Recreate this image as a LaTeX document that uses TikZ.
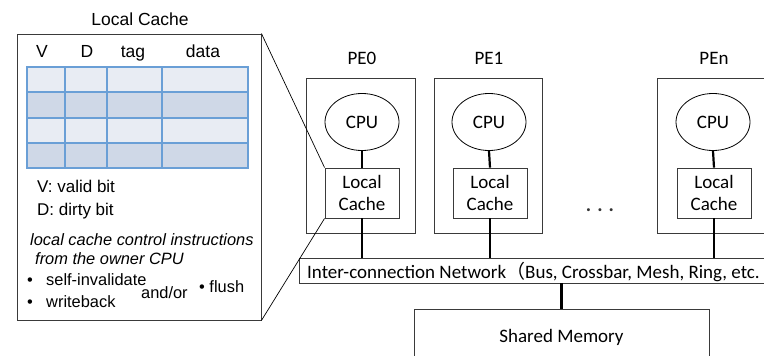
\documentclass[tikz,border=0pt]{standalone}
\usepackage{fontspec}
\setmainfont{Carlito}
\newfontfamily\jpsans{Liberation Sans}
\newfontfamily\cjk{Noto Sans CJK JP}
\usetikzlibrary{shapes.geometric}
\definecolor{rowlight}{HTML}{E8ECF3}
\definecolor{rowdark}{HTML}{CFD8E7}
\definecolor{gridblue}{HTML}{6A9FD6}
\definecolor{boxgray}{HTML}{3A3A3A}
\tikzset{
  frame/.style={draw=boxgray, line width=0.9pt, rectangle, inner sep=0pt},
  cpunode/.style={draw=black, line width=0.8pt, ellipse, minimum width=74pt, minimum height=57pt, inner sep=0pt, font=\fontsize{19}{21}\selectfont},
  cachenode/.style={frame, minimum width=74pt, minimum height=50pt, align=center, font=\fontsize{19}{22}\selectfont},
  pelabel/.style={font=\fontsize{19}{21}\selectfont, anchor=base, inner sep=0pt},
  wire/.style={line width=2.2pt, black},
  zoomline/.style={line width=0.7pt, black},
  hdr/.style={font=\jpsans\fontsize{17.5}{19}\selectfont, anchor=base, inner sep=0pt},
  lefttext/.style={font=\jpsans\fontsize{17}{19}\selectfont, anchor=base west, inner sep=0pt},
  itext/.style={font=\jpsans\itshape\fontsize{16.4}{18}\selectfont, anchor=base west, inner sep=0pt},
  btext/.style={font=\jpsans\fontsize{16.4}{18}\selectfont, anchor=base west, inner sep=0pt},
}
\begin{document}
\begin{tikzpicture}[x=1pt, y=-1pt]
\useasboundingbox (0,0) rectangle (764,356);
\clip (0,0) rectangle (764,356);
% zoomed local cache panel
\node[frame, minimum width=244pt, minimum height=286pt] (lc) at (139,177) {};
\node[hdr] (lctitle) at (140,26) {Local Cache};
\node[hdr] (hv) at (42,57) {V};
\node[hdr] (hd) at (87,57) {D};
\node[hdr] (ht) at (133,57) {tag};
\node[hdr] (hdata) at (203,57) {data};
\fill[rowlight] (27,67) rectangle (248,92);
\fill[rowdark] (27,92) rectangle (248,118);
\fill[rowlight] (27,118) rectangle (248,143);
\fill[rowdark] (27,143) rectangle (248,168);
\draw[gridblue, line width=1.3pt] (27,67) rectangle (248,168);
\foreach \yy in {92,118,143} \draw[gridblue, line width=1.3pt] (27,\yy) -- (248,\yy);
\foreach \xx in {65,107,162} \draw[gridblue, line width=1.3pt] (\xx,67) -- (\xx,168);
\node[lefttext] (tv) at (37,192) {V: valid bit};
\node[lefttext] (td) at (37,215) {D: dirty bit};
\node[itext] (ti1) at (30,245) {local cache control instructions};
\node[itext] (ti2) at (35,264) {from the owner CPU};
\node[btext] (d1) at (27,285) {\textbullet};
\node[btext] (b1) at (46,285) {self-invalidate};
\node[btext] (d2) at (27,307) {\textbullet};
\node[btext] (b2) at (46,307) {writeback};
\node[btext] (andor) at (141,298) {and/or};
\node[btext] (b3) at (199,292) {\textbullet\ flush};
% PEs
\node[frame, minimum width=109pt, minimum height=155pt] (pe0) at (360.5,155.5) {};
\node[frame, minimum width=108pt, minimum height=155pt] (pe1) at (488,155.5) {};
\node[frame, minimum width=109pt, minimum height=155pt] (pen) at (711.5,155.5) {};
\node[pelabel] (l0) at (362,64) {PE0};
\node[pelabel] (l1) at (489,64) {PE1};
\node[pelabel] (ln) at (714,64) {PEn};
\node[cpunode] (cpu0) at (362,122) {CPU};
\node[cpunode] (cpu1) at (489,122) {CPU};
\node[cpunode] (cpun) at (713,122) {CPU};
\node[cachenode] (c0) at (362,193) {Local\\Cache};
\node[cachenode] (c1) at (490,193) {Local\\Cache};
\node[cachenode] (cn) at (714,193) {Local\\Cache};
\node[font=\bfseries\fontsize{20}{22}\selectfont, inner sep=0pt, anchor=base, text=black!80] (dots) at (600,211) {.\hspace{6pt}.\hspace{6pt}.};
% network and memory
\node[frame, minimum width=520pt, minimum height=25pt] (net) at (559,270.5) {};
\node[anchor=base west, inner sep=0pt, font=\fontsize{19}{21}\selectfont] (nettext) at (307,278) {Inter-connection Network{\cjk （}Bus, Crossbar, Mesh, Ring, etc.};
\node[frame, minimum width=295pt, minimum height=80pt] (mem) at (561.5,349) {};
\node[font=\fontsize{19}{21}\selectfont, anchor=base, inner sep=0pt] (memtext) at (561.5,342) {Shared Memory};
% connectors
\draw[wire] (cpu0.south) -- (c0.north);
\draw[wire] (cpu1.south) -- (c1.north);
\draw[wire] (cpun.south) -- (cn.north);
\draw[wire] (c0.south) -- (c0.south |- net.north);
\draw[wire] (c1.south) -- (c1.south |- net.north);
\draw[wire] (cn.south) -- (cn.south |- net.north);
\draw[wire] (mem.north) -- (mem.north |- net.south);
% zoom lines
\draw[zoomline] (lc.north east) -- (c0.north west);
\draw[zoomline] (lc.south east) -- (c0.south west);
\end{tikzpicture}
\end{document}
